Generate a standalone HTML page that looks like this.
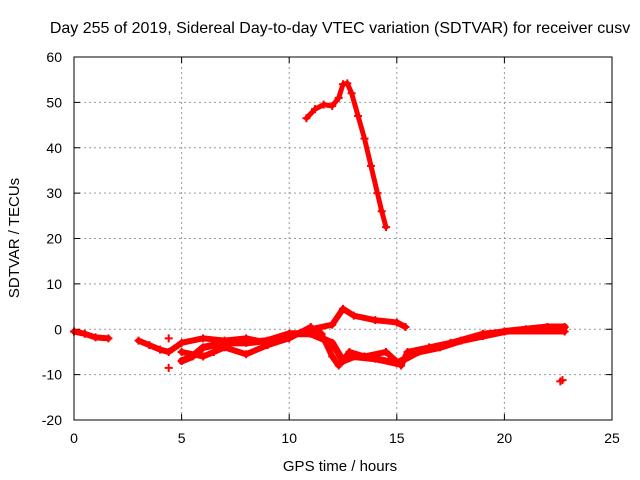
<!DOCTYPE html>
<html><head><meta charset="utf-8"><style>
body{margin:0;background:#fff}
svg{display:block;font-family:"Liberation Sans",sans-serif}
</style></head><body>
<svg id="chart" width="640" height="480">
<text x="340" y="33" font-size="16" text-anchor="middle">Day 255 of 2019, Sidereal Day-to-day VTEC variation (SDTVAR) for receiver cusv</text>
<text x="340" y="471" font-size="15" text-anchor="middle">GPS time / hours</text>
<text transform="translate(19,238) rotate(-90)" font-size="15" text-anchor="middle">SDTVAR / TECUs</text>
<g id="grid"></g><g id="data"></g>
<rect x="74" y="57" width="538" height="363" fill="none" stroke="#000" stroke-width="1"/>
</svg>
<script>
const xTicks=[0,5,10,15,20,25];
const yTicks=[-20,-10,0,10,20,30,40,50,60];
const upperArc=[[10.8,46.5],[11.2,48.5],[11.6,49.5],[12.0,49.2],[12.3,51],[12.5,54],[12.7,54.2],[12.9,52],[13.2,47],[13.5,42],[13.8,36],[14.1,30],[14.3,26],[14.5,22.5]];
const earlyTrack=[[0,-0.5],[0.5,-1],[1,-1.8],[1.6,-2]];
const trackA=[[3,-2.5],[3.5,-3.5],[4,-4.5],[4.4,-5],[5,-3],[6,-2],[7,-2.5],[8,-2],[9,-3],[10,-1.5],[11,0],[12,1],[12.5,4.5],[13,3],[14,2],[15,1.5],[15.4,0.5]];
const trackB=[[5,-7],[5.5,-6],[6,-4],[7,-3],[8,-3],[9,-2.5],[10,-1],[11,-1],[12,-3],[12.5,-7],[13,-6],[14,-6.5],[15,-7.5],[16,-5],[17,-4],[18,-2.5],[19,-1.5],[20,-0.5],[21,0],[22,0.5],[22.8,0.5]];
const trackC=[[5,-5],[6,-6],[6.5,-5],[7,-4],[8,-5.5],[9,-3.5],[10,-2],[11,0.5],[11.5,-1],[12,-6],[12.3,-8],[12.8,-5],[13.5,-6],[14.5,-5],[15.2,-8],[15.5,-5],[16.5,-4],[17.5,-3],[19,-1],[20,-0.5],[22.8,-0.5]];
const isolated=[[22.7,-11.2],[22.6,-11.5],[4.4,-8.5],[4.4,-2]];
const X=t=>74+t*538/25, Y=v=>57+(60-v)*363/80;
const NS="http://www.w3.org/2000/svg";
const g=document.getElementById('grid'), d=document.getElementById('data');
function mk(tag,a,p){const e=document.createElementNS(NS,tag);for(const k in a)e.setAttribute(k,a[k]);p.appendChild(e);return e;}
xTicks.forEach(t=>{const x=X(t);
 if(t>0&&t<25){const l=mk('line',{x1:x,x2:x,y1:57,y2:420,stroke:'#999','stroke-dasharray':'2,3'},g);}
 mk('line',{x1:x,x2:x,y1:420,y2:414,stroke:'#000'},g);mk('line',{x1:x,x2:x,y1:57,y2:63,stroke:'#000'},g);
 const tx=mk('text',{x:x,y:443,'font-size':14,'text-anchor':'middle'},g);tx.textContent=t;
 });
yTicks.forEach(v=>{const y=Y(v);
 if(v>-20&&v<60){const l=mk('line',{x1:74,x2:612,y1:y,y2:y,stroke:'#999','stroke-dasharray':'2,3'},g);}
 mk('line',{x1:74,x2:80,y1:y,y2:y,stroke:'#000'},g);mk('line',{x1:612,x2:606,y1:y,y2:y,stroke:'#000'},g);
 const tx=mk('text',{x:62,y:y+5,'font-size':14,'text-anchor':'end'},g);tx.textContent=v;
 });
[['upper-arc',upperArc,5],['early-track',earlyTrack,6],['track-a',trackA,6],['track-b',trackB,7],['track-c',trackC,6]].forEach(([n,arr,w])=>{
 const pl=mk('polyline',{points:arr.map(p=>X(p[0])+','+Y(p[1])).join(' '),fill:'none',stroke:'#f00','stroke-width':w,'stroke-linejoin':'round','stroke-linecap':'round'},d);
 
 
});
[upperArc,earlyTrack,trackA,trackB,trackC,isolated].forEach(arr=>arr.forEach(p=>{
 const x=X(p[0]),y=Y(p[1]);
 const m=mk('path',{d:`M${x-4},${y}H${x+4}M${x},${y-4}V${y+4}`,stroke:'#f00','stroke-width':2},d);
 
 
}));
</script>
</body></html>
